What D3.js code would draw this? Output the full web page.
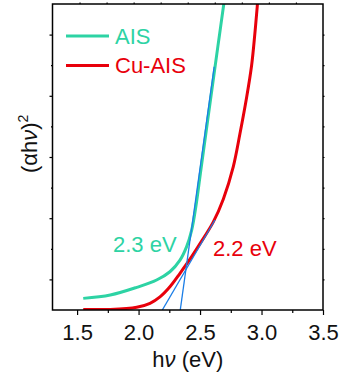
<!DOCTYPE html>
<html>
<head>
<meta charset="utf-8">
<script src="https://cdn.jsdelivr.net/npm/d3@7"></script>
<style>
  html, body { margin: 0; padding: 0; background: #fff; }
  svg { display: block; }
  text { font-family: Arial, "Liberation Sans", sans-serif; }
</style>
</head>
<body>
<svg id="chart" width="342" height="385"></svg>
<script>
// ---- data ----
const seriesNames = ["AIS", "Cu-AIS"];
const aisX = [1.55, 1.77, 1.985, 2.147, 2.255, 2.337, 2.391, 2.432, 2.466, 2.503, 2.562, 2.622, 2.656, 2.69, 2.70];
const aisY = [0.38, 0.49, 0.74, 0.98, 1.25, 1.63, 2.07, 2.61, 3.38, 4.47, 6.2, 7.95, 8.93, 9.91, 10.2];
const cuX = [1.55, 1.77, 1.985, 2.093, 2.174, 2.255, 2.337, 2.418, 2.5, 2.607, 2.689, 2.77, 2.824, 2.879, 2.919, 2.946, 2.965, 2.97];
const cuY = [0.02, 0.02, 0.09, 0.22, 0.43, 0.76, 1.2, 1.66, 2.17, 2.87, 3.62, 4.68, 5.75, 6.95, 7.98, 9.04, 9.91, 10.2];
const fitAisX = [2.339, 2.615];
const fitAisY = [0, 7.95];
const fitCuX = [2.193, 2.621];
const fitCuY = [0, 2.94];
const gapLabels = ["2.3 eV", "2.2 eV"];
const xTicks = [1.5, 2.0, 2.5, 3.0, 3.5];
const xMinorTicks = [1.75, 2.25, 2.75, 3.25];
const yMajorTicks = [1, 3, 5, 7, 9];
const yMinorTicks = [2, 4, 6, 8];
const topTicks = [1.52, 1.74, 1.96, 2.18, 2.40, 2.62, 2.84, 3.06, 3.28];

const colors = { ais: "#2dd3a4", cu: "#e8000b", fit: "#1a7de6" };

const svg = d3.select("#chart");
const L = 52.5, R = 323, T = 4, B = 310;
const x = d3.scaleLinear().domain([1.3, 3.5]).range([L, R]);
const y = d3.scaleLinear().domain([0, 10]).range([B, T]);

svg.append("defs").append("clipPath").attr("id", "clip")
  .append("rect").attr("x", L).attr("y", T).attr("width", R - L).attr("height", B - T);

const line = d3.line().x(d => x(d[0])).y(d => y(d[1])).curve(d3.curveCatmullRom.alpha(0.5));
const zip = (a, b) => a.map((v, i) => [v, b[i]]);

const plot = svg.append("g").attr("clip-path", "url(#clip)");
plot.append("path").datum(zip(aisX, aisY)).attr("d", line)
  .attr("fill", "none").attr("stroke", colors.ais).attr("stroke-width", 3);
plot.append("path").datum(zip(cuX, cuY)).attr("d", line)
  .attr("fill", "none").attr("stroke", colors.cu).attr("stroke-width", 3);
const straight = d3.line().x(d => x(d[0])).y(d => y(d[1]));
plot.append("path").datum(zip(fitAisX, fitAisY)).attr("d", straight)
  .attr("fill", "none").attr("stroke", colors.fit).attr("stroke-width", 1.3);
plot.append("path").datum(zip(fitCuX, fitCuY)).attr("d", straight)
  .attr("fill", "none").attr("stroke", colors.fit).attr("stroke-width", 1.3);

// axes
const gBottom = svg.append("g").attr("transform", `translate(0,${B})`)
  .call(d3.axisBottom(x).tickValues(xTicks).tickFormat(d3.format(".1f")).tickSize(5).tickPadding(9));
gBottom.append("g").call(d3.axisBottom(x).tickValues(xMinorTicks).tickFormat("").tickSize(3));
const gLeft = svg.append("g").attr("transform", `translate(${L},0)`)
  .call(d3.axisLeft(y).tickValues(yMajorTicks).tickFormat("").tickSize(3));
gLeft.append("g").call(d3.axisLeft(y).tickValues(yMinorTicks).tickFormat("").tickSize(1.5));
const gTop = svg.append("g").attr("transform", `translate(0,${T})`)
  .call(d3.axisTop(x).tickValues(topTicks).tickFormat("").tickSize(1.5));
const gRight = svg.append("g").attr("transform", `translate(${R},0)`)
  .call(d3.axisRight(y).tickValues(yMajorTicks.concat(yMinorTicks)).tickFormat("").tickSize(1.5));

[gBottom, gLeft, gTop, gRight].forEach(g => {
  g.selectAll(".domain").remove();
  g.selectAll("line").attr("stroke", "#000").attr("stroke-width", 1.2);
});
gBottom.selectAll("text").attr("font-size", 22).attr("fill", "#111")
  .attr("font-family", "Arial, 'Liberation Sans', sans-serif");

svg.append("rect").attr("x", L).attr("y", T).attr("width", R - L).attr("height", B - T)
  .attr("fill", "none").attr("stroke", "#000").attr("stroke-width", 1.5);

// axis titles
const xt = svg.append("text").attr("x", (L + R) / 2).attr("y", 367)
  .attr("text-anchor", "middle").attr("font-size", 22).attr("fill", "#111");
xt.append("tspan").text("h");
xt.append("tspan").attr("font-style", "italic").text("ν");
xt.append("tspan").text(" (eV)");

const yt = svg.append("text").attr("transform", "translate(37,173) rotate(-90)")
  .attr("text-anchor", "start").attr("font-size", 22).attr("fill", "#111");
yt.append("tspan").text("(αh");
yt.append("tspan").attr("font-style", "italic").text("ν");
yt.append("tspan").text(")");
yt.append("tspan").attr("font-size", 14).attr("dy", -9).text("2");

// legend
const legend = svg.append("g");
[[seriesNames[0], colors.ais, 36], [seriesNames[1], colors.cu, 65.5]].forEach(([name, c, ly]) => {
  legend.append("line").attr("x1", 66).attr("x2", 109).attr("y1", ly).attr("y2", ly)
    .attr("stroke", c).attr("stroke-width", 3);
  legend.append("text").attr("x", 115).attr("y", ly + 7.5).attr("font-size", 22)
    .attr("fill", c).text(name);
});

// band gap labels
svg.append("text").attr("x", 113).attr("y", 252).attr("font-size", 22)
  .attr("fill", colors.ais).text(gapLabels[0]);
svg.append("text").attr("x", 213).attr("y", 256).attr("font-size", 22)
  .attr("fill", colors.cu).text(gapLabels[1]);
</script>
</body>
</html>
